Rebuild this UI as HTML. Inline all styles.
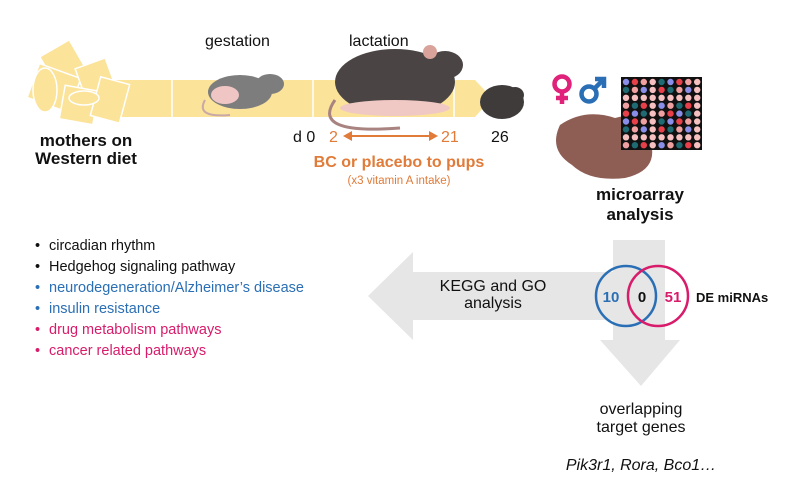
<!DOCTYPE html>
<html><head><meta charset="utf-8"><style>
body{margin:0;background:#fff;}
svg{display:block;font-family:"Liberation Sans",Arial,sans-serif;}
</style></head><body>
<svg id="s" width="801" height="480" viewBox="0 0 801 480" xmlns="http://www.w3.org/2000/svg">
<polygon points="110,80 475,80 492,98 475,117 110,117" fill="#fbe39a"/>
<line x1="172" y1="80" x2="172" y2="117" stroke="#fff" stroke-width="1.5"/>
<line x1="313" y1="80" x2="313" y2="117" stroke="#fff" stroke-width="1.5"/>
<line x1="454" y1="80" x2="454" y2="117" stroke="#fff" stroke-width="1.5"/>
<g fill="#fbe39a" stroke="#fff" stroke-width="1.5">
<rect x="50" y="45" width="34" height="50" transform="rotate(-30 67 70)"/>
<rect x="32" y="70" width="44" height="36" transform="rotate(20 54 88)"/>
<rect x="82" y="62" width="32" height="46" transform="rotate(-20 98 85)"/>
<rect x="62" y="88" width="34" height="34" transform="rotate(10 79 105)"/>
<rect x="95" y="80" width="30" height="40" transform="rotate(15 110 100)"/>
<ellipse cx="45" cy="90" rx="12" ry="22"/>
<ellipse cx="84" cy="98" rx="15" ry="7"/>
</g>
<ellipse cx="240" cy="92" rx="32" ry="17" fill="#7d7d7d"/>
<ellipse cx="270" cy="84" rx="14" ry="10" fill="#7d7d7d"/>
<ellipse cx="225" cy="95" rx="14" ry="9" fill="#f0c6c4"/>
<path d="M205,100 Q195,118 230,115" stroke="#c9a8a6" stroke-width="2" fill="none"/>
<ellipse cx="395" cy="82" rx="60" ry="33" fill="#4a4544"/>
<ellipse cx="445" cy="65" rx="18" ry="14" fill="#4a4544"/>
<ellipse cx="430" cy="52" rx="7" ry="7" fill="#d9a39c"/>
<ellipse cx="395" cy="108" rx="55" ry="8" fill="#f0c8c4"/>
<path d="M335,100 Q310,135 400,128" stroke="#a8837f" stroke-width="3" fill="none"/>
<ellipse cx="502" cy="102" rx="22" ry="17" fill="#3f3b3a"/>
<ellipse cx="515" cy="95" rx="9" ry="8" fill="#3f3b3a"/>
<text x="205" y="46" font-size="16" fill="#111">gestation</text>
<text x="349" y="46" font-size="16" fill="#111">lactation</text>
<text x="86" y="146" font-size="17" font-weight="bold" text-anchor="middle" fill="#111">mothers on</text>
<text x="86" y="164" font-size="17" font-weight="bold" text-anchor="middle" fill="#111">Western diet</text>
<text x="293" y="142" font-size="16" fill="#111">d 0</text>
<text x="329" y="142" font-size="16" fill="#e07b39">2</text>
<text x="441" y="142" font-size="16" fill="#e07b39">21</text>
<text x="491" y="142" font-size="16" fill="#111">26</text>
<line x1="348" y1="136" x2="432" y2="136" stroke="#e07b39" stroke-width="2"/>
<polygon points="343,136 352,131 352,141" fill="#e07b39"/>
<polygon points="438,136 429,131 429,141" fill="#e07b39"/>
<text x="399" y="167" font-size="16" font-weight="bold" text-anchor="middle" fill="#e07b39">BC or placebo to pups</text>
<text x="399" y="184" font-size="11.5" text-anchor="middle" fill="#e07b39">(x3 vitamin A intake)</text>
<g fill="none" stroke-width="4.5">
<circle cx="562" cy="84" r="7.5" stroke="#e0227a"/>
<line x1="562" y1="91" x2="562" y2="104" stroke="#e0227a"/>
<line x1="556" y1="98" x2="568" y2="98" stroke="#e0227a"/>
<circle cx="589" cy="94" r="7.5" stroke="#2a6fb5"/>
<line x1="594" y1="89" x2="603" y2="80" stroke="#2a6fb5"/>
<polyline points="595,79 604,79 604,88" stroke="#2a6fb5"/>
</g>
<path d="M560,125 Q585,108 615,118 Q640,110 650,140 Q660,170 625,178 Q590,182 572,165 Q548,150 560,125Z" fill="#8e5e55"/>
<rect x="621" y="77" width="81" height="73" fill="#111"/>
<g id="dots"></g>
<text x="640" y="200" font-size="17" font-weight="bold" text-anchor="middle" fill="#111">microarray</text>
<text x="640" y="220" font-size="17" font-weight="bold" text-anchor="middle" fill="#111">analysis</text>
<polygon points="613,240 665,240 665,340 680,340 641,386 600,340 613,340" fill="#e6e6e6"/>
<polygon points="368,296 413,252 413,272 620,272 620,320 413,320 413,340" fill="#e6e6e6"/>
<text x="493" y="291" font-size="16" text-anchor="middle" fill="#111">KEGG and GO</text>
<text x="493" y="308" font-size="16" text-anchor="middle" fill="#111">analysis</text>
<circle cx="626" cy="296" r="30" fill="none" stroke="#2a6fb5" stroke-width="2.5"/>
<circle cx="658" cy="296" r="30" fill="none" stroke="#d81b6a" stroke-width="2.5"/>
<text x="611" y="302" font-size="15" font-weight="bold" text-anchor="middle" fill="#2a6fb5">10</text>
<text x="642" y="302" font-size="15" font-weight="bold" text-anchor="middle" fill="#111">0</text>
<text x="673" y="302" font-size="15" font-weight="bold" text-anchor="middle" fill="#d81b6a">51</text>
<text x="696" y="302" font-size="13" font-weight="bold" fill="#111">DE miRNAs</text>
<g font-size="14.5">
<text x="35" y="250" fill="#111">•</text><text x="49" y="250" fill="#111">circadian rhythm</text>
<text x="35" y="271" fill="#111">•</text><text x="49" y="271" fill="#111">Hedgehog signaling pathway</text>
<text x="35" y="292" fill="#2a6fb5">•</text><text x="49" y="292" fill="#2a6fb5">neurodegeneration/Alzheimer’s disease</text>
<text x="35" y="313" fill="#2a6fb5">•</text><text x="49" y="313" fill="#2a6fb5">insulin resistance</text>
<text x="35" y="334" fill="#d81b6a">•</text><text x="49" y="334" fill="#d81b6a">drug metabolism pathways</text>
<text x="35" y="355" fill="#d81b6a">•</text><text x="49" y="355" fill="#d81b6a">cancer related pathways</text>
</g>
<text x="641" y="414" font-size="16" text-anchor="middle" fill="#111">overlapping</text>
<text x="641" y="432" font-size="16" text-anchor="middle" fill="#111">target genes</text>
<text x="641" y="470" font-size="16" font-style="italic" text-anchor="middle" fill="#111">Pik3r1, Rora, Bco1…</text>
</svg>
<script>
var g=document.getElementById('dots'),c=['#8a8ee8','#f0a0a0','#1f6b73','#e8404a','#f6c0c0'],h='';
for(var i=0;i<9;i++)for(var j=0;j<9;j++){var k=(i*7+j*3+i*j)%5;h+='<circle cx="'+(626+j*8.9)+'" cy="'+(82+i*7.9)+'" r="3.2" fill="'+c[k]+'"/>';}
g.innerHTML=h;
</script>
</body></html>
